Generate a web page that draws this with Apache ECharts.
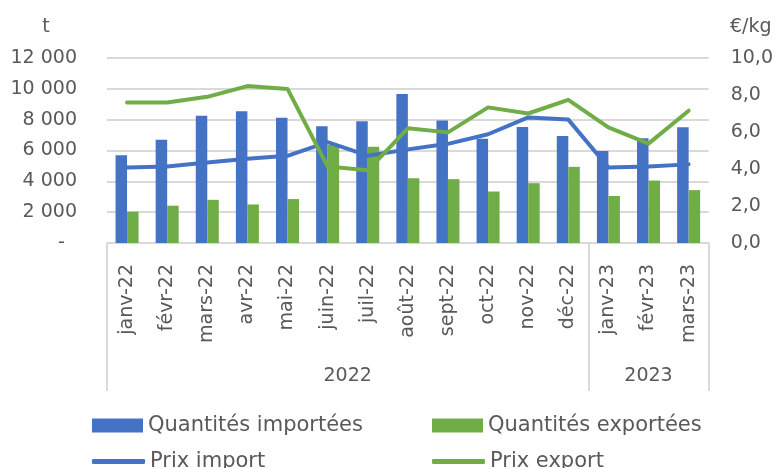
<!DOCTYPE html>
<html>
<head>
<meta charset="utf-8">
<script src="https://cdn.jsdelivr.net/npm/echarts@6/dist/echarts.min.js"></script>
<style>
  html, body { margin: 0; padding: 0; background: #fff; }
  #chart { width: 776px; height: 468px; }
</style>
</head>
<body>
<div id="chart"></div>
<script>
  const months = ['janv-22', 'févr-22', 'mars-22', 'avr-22', 'mai-22', 'juin-22', 'juil-22', 'août-22',
    'sept-22', 'oct-22', 'nov-22', 'déc-22', 'janv-23', 'févr-23', 'mars-23']
  const years = ['2022', '2023']
  const monthsPerYear = [12, 3]

  const importQty = [5700, 6700, 8250, 8550, 8120, 7580, 7900, 9670, 7950, 6760, 7520, 6940, 5970, 6790, 7510]
  const exportQty = [2030, 2420, 2800, 2500, 2850, 6350, 6250, 4200, 4140, 3340, 3880, 4940, 3050, 4050, 3430]
  const importPrice = [4.08, 4.13, 4.35, 4.56, 4.71, 5.45, 4.72, 5.06, 5.36, 5.88, 6.79, 6.67, 4.08, 4.13, 4.25]
  const exportPrice = [7.6, 7.6, 7.9, 8.48, 8.33, 4.13, 3.93, 6.2, 5.98, 7.33, 7.0, 7.74, 6.25, 5.37, 7.15]

  const names = ['Quantités importées', 'Quantités exportées', 'Prix import', 'Prix export']
  const blue = '#4472C4'
  const green = '#70AD47'
  const textColor = '#595959'
  const gridColor = '#d9d9d9'
  const font = 'DejaVu Sans'

  // year group boundaries and centres on the 0..15 scale
  const bounds = [0]
  const centres = []
  monthsPerYear.forEach(n => {
    const start = bounds[bounds.length - 1]
    centres.push(start + n / 2)
    bounds.push(start + n)
  })

  const fmtThousands = v => v === 0 ? '-  ' : String(v).replace(/\B(?=(\d{3})+(?!\d))/g, ' ')

  const chart = echarts.init(document.getElementById('chart'))

  const legendBase = {
    itemGap: 0,
    padding: 0,
    textStyle: { fontFamily: font, fontSize: 21, color: textColor },
    selectedMode: false
  }

  chart.setOption({
    animation: false,
    textStyle: { fontFamily: font },
    grid: { left: 107, right: 66, top: 58, bottom: 225 },
    legend: [
      Object.assign({}, legendBase, { data: [names[0]], left: 92, top: 415, itemWidth: 51, itemHeight: 14, icon: 'rect' }),
      Object.assign({}, legendBase, { data: [names[1]], left: 432, top: 415, itemWidth: 51, itemHeight: 14, icon: 'rect' }),
      Object.assign({}, legendBase, { data: [names[2]], left: 92, top: 451, itemWidth: 53, itemHeight: 5, icon: 'roundRect' }),
      Object.assign({}, legendBase, { data: [names[3]], left: 432, top: 451, itemWidth: 53, itemHeight: 5, icon: 'roundRect' })
    ],
    xAxis: [{
      type: 'category',
      data: months,
      axisTick: { show: false },
      axisLine: { lineStyle: { color: gridColor, width: 2 } },
      axisLabel: { rotate: 90, margin: 21, fontSize: 19, color: textColor, interval: 0 }
    }, {
      type: 'value',
      position: 'bottom',
      min: 0,
      max: months.length,
      interval: 1.5,
      splitLine: { show: false },
      axisLine: { show: false },
      axisTick: {
        show: true,
        length: 148,
        customValues: bounds,
        lineStyle: { color: gridColor, width: 2 }
      },
      axisLabel: {
        margin: 124,
        fontSize: 19,
        color: textColor,
        customValues: centres,
        formatter: v => years[centres.indexOf(v)] || ''
      }
    }],
    yAxis: [{
      type: 'value',
      min: 0,
      max: 12000,
      interval: 2000,
      name: 't',
      nameLocation: 'end',
      nameGap: 21,
      nameTextStyle: { fontSize: 19, color: textColor, padding: [0, 122, 0, 0] },
      axisLine: { show: false },
      axisTick: { show: false },
      axisLabel: { fontSize: 19, color: textColor, margin: 30, formatter: fmtThousands },
      splitLine: { lineStyle: { color: gridColor, width: 2 } }
    }, {
      type: 'value',
      min: 0,
      max: 10,
      interval: 2,
      name: '€/kg',
      nameLocation: 'end',
      nameGap: 21,
      nameTextStyle: { fontSize: 19, color: textColor, padding: [0, 0, 0, 84] },
      axisLine: { show: false },
      axisTick: { show: false },
      axisLabel: { fontSize: 19, color: textColor, margin: 22, formatter: v => v.toFixed(1).replace('.', ',') },
      splitLine: { show: false }
    }],
    series: [{
      name: names[0],
      type: 'bar',
      data: importQty,
      barWidth: 11.5,
      barGap: '0%',
      itemStyle: { color: blue }
    }, {
      name: names[1],
      type: 'bar',
      data: exportQty,
      barWidth: 11.5,
      barGap: '0%',
      itemStyle: { color: green }
    }, {
      name: names[2],
      type: 'line',
      yAxisIndex: 1,
      data: importPrice,
      symbol: 'none',
      lineStyle: { color: blue, width: 4, cap: 'round', join: 'round' },
      itemStyle: { color: blue }
    }, {
      name: names[3],
      type: 'line',
      yAxisIndex: 1,
      data: exportPrice,
      symbol: 'none',
      lineStyle: { color: green, width: 4, cap: 'round', join: 'round' },
      itemStyle: { color: green }
    }]
  })
</script>
</body>
</html>
